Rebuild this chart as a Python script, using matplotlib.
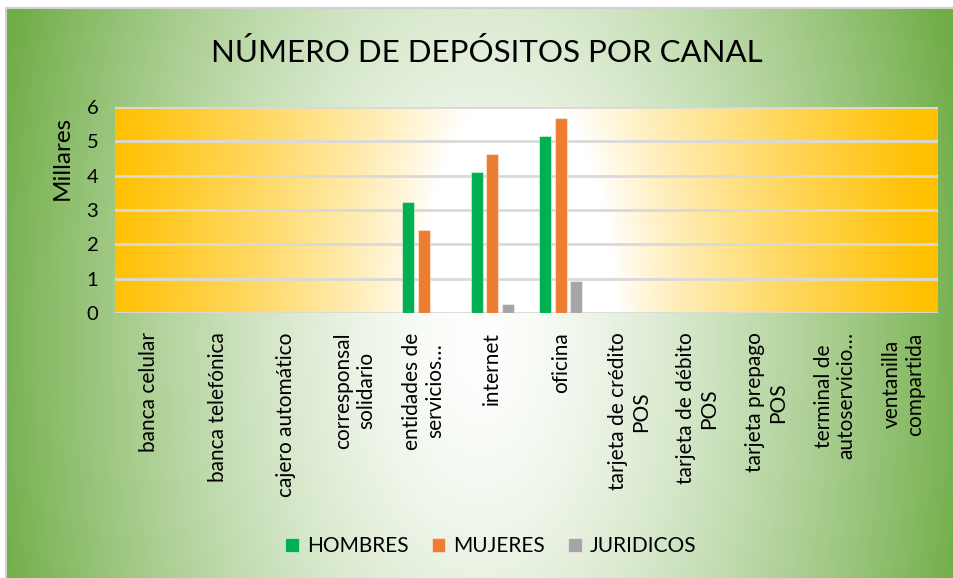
import numpy as np
import matplotlib
matplotlib.use("Agg")
import matplotlib.pyplot as plt
from matplotlib.patches import Rectangle

# data (thousands)
canales = ["banca celular", "banca telefónica", "cajero automático",
           "corresponsal\nsolidario", "entidades de\nservicios…", "internet",
           "oficina", "tarjeta de crédito\nPOS", "tarjeta de débito\nPOS",
           "tarjeta prepago\nPOS", "terminal de\nautoservicio…",
           "ventanilla\ncompartida"]
hombres = [0, 0, 0, 0, 3.24, 4.12, 5.16, 0, 0, 0, 0, 0]
mujeres = [0, 0, 0, 0, 2.43, 4.64, 5.68, 0, 0, 0, 0, 0]
juridicos = [0, 0, 0, 0, 0, 0.27, 0.94, 0, 0, 0, 0, 0]
series = ["HOMBRES", "MUJERES", "JURIDICOS"]
colores = ["#00B050", "#ED7D31", "#A5A5A5"]

plt.rcParams['font.family'] = ['Lato', 'DejaVu Sans']

W, H = 954, 578
fig = plt.figure(figsize=(W / 100, H / 100), dpi=100)
fig.patch.set_facecolor("white")

# chart area background: green radial gradient
bg = fig.add_axes([7 / W, 0, 1 - 7 / W, 1 - 9 / H], zorder=0)
xx, yy = np.meshgrid(np.linspace(7, W, 300), np.linspace(9, H, 200))
t = np.sqrt(((xx - 480) / 500) ** 2 + ((yy - 340) / 900) ** 2)
t = np.clip(t, 0, 1) ** 1.4
green = np.array([112, 173, 71]) / 255
img = 1 - t[..., None] * (1 - green)
bg.imshow(img, aspect="auto", extent=[0, 1, 0, 1], origin="upper")
bg.set_xlim(0, 1)
bg.set_ylim(0, 1)
bg.axis("off")
fig.add_artist(Rectangle((6 / W, -0.01), 1, 1 - 8 / H + 0.01, transform=fig.transFigure,
                         fill=False, edgecolor="#D0D0D0", linewidth=1.5, zorder=1))

# plot area
ax = fig.add_axes([115 / W, 1 - 313 / H, (938 - 115) / W, (313 - 107) / H], zorder=2)
n = len(canales)
px = np.linspace(115, 938, 400)
py = np.linspace(107, 313, 50)
gx, gy = np.meshgrid(px, py)
s = np.sqrt(((gx - 518) / 1) ** 2 + ((gy - 330) / 2.5) ** 2)
s = np.clip((s - 100) / 310, 0, 1) ** 0.8
orange = np.array([255, 192, 0]) / 255
pimg = 1 - s[..., None] * (1 - orange)
ax.imshow(pimg, aspect="auto", extent=[-0.5, n - 0.5, 0, 6], origin="upper", zorder=0)

x = np.arange(n)
w = 0.175
off = 0.226
for i, (vals, c) in enumerate(zip([hombres, mujeres, juridicos], colores)):
    ax.bar(x + (i - 1) * off, vals, width=w, color=c, edgecolor=(1, 1, 1, 0.45),
           linewidth=0.8, label=series[i], zorder=3)

ax.set_xlim(-0.5, n - 0.5)
ax.set_ylim(0, 6)
ax.set_yticks(range(7))
ax.yaxis.grid(True, color="#D9D9D9", linewidth=2)
ax.set_axisbelow(False)
for gl in ax.get_ygridlines():
    gl.set_zorder(1)
for sp in ax.spines.values():
    sp.set_visible(False)
ax.tick_params(axis="both", length=0, labelsize=14.5, colors="black")
ax.tick_params(axis="y", pad=12)
ax.set_xticks(x)
ax.set_xticklabels(canales, rotation=90, va="top", ha="center",
                   multialignment="center", fontsize=15)
ax.tick_params(axis="x", pad=14)

fig.text(62 / W, 1 - 158 / H, "Millares", rotation=90, ha="center", va="center",
         fontsize=17.5, color="black")

fig.text(487 / W, 1 - 53 / H, "NÚMERO DE DEPÓSITOS POR CANAL", ha="center", va="center",
         fontsize=22.5, color="black")

fig.legend(loc="center", bbox_to_anchor=(491 / W, 1 - 546 / H), ncol=3, frameon=False,
           fontsize=15, handlelength=0.65, handleheight=0.65, handletextpad=0.4,
           columnspacing=1.1)

fig.savefig("out.png", dpi=100)
